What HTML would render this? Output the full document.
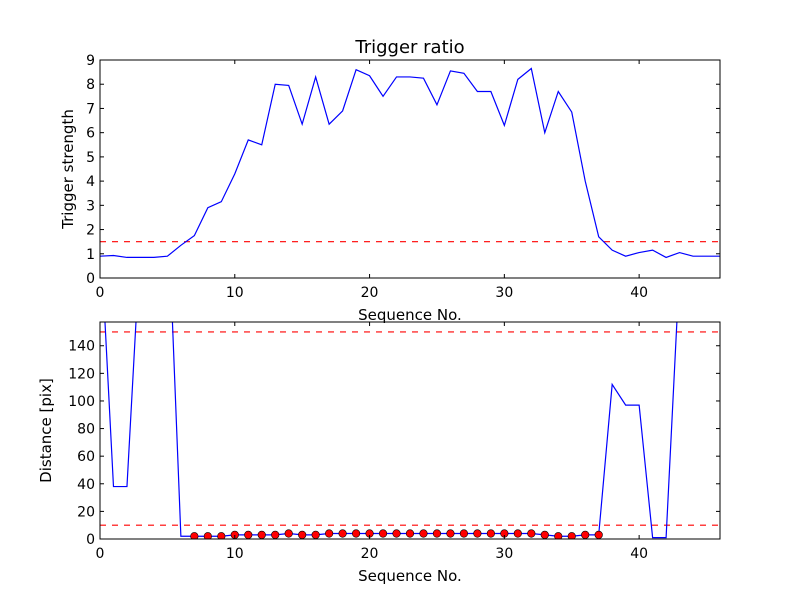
<!DOCTYPE html>
<html><head><meta charset="utf-8"><style>
body{margin:0;background:#fff}
svg{display:block;font-family:"DejaVu Sans","Liberation Sans",sans-serif}
</style></head><body>
<svg id="fig" width="800" height="600" viewBox="0 0 800 600">
<rect width="800" height="600" fill="#fff"/>
</svg>
<script>
const seq = Array.from({length:47},(_, i)=>i);
const strength = [0.9,0.93,0.85,0.85,0.85,0.9,1.35,1.75,2.9,3.15,4.3,5.7,5.5,8.0,7.95,6.35,8.3,6.35,6.9,8.6,8.35,7.5,8.3,8.3,8.25,7.15,8.55,8.45,7.7,7.7,6.3,8.2,8.65,6.0,7.7,6.85,4.0,1.7,1.15,0.9,1.05,1.15,0.85,1.05,0.9,0.9,0.9];
const distance = [227,38,38,216,250,250,2,2,2,2,3,3,3,3,4,3,3,4,4,4,4,4,4,4,4,4,4,4,4,4,4,4,4,3,2,2,3,3,112,97,97,1,1,196,250,250,250];
const dotIdx = [7,8,9,10,11,12,13,14,15,16,17,18,19,20,21,22,23,24,25,26,27,28,29,30,31,32,33,34,35,36,37];
const dotVals = [2,2,2,3,3,3,3,4,3,3,4,4,4,4,4,4,4,4,4,4,4,4,4,4,4,4,3,2,2,3,3];
const topThresh = [1.5];
const botThresh = [150,10];
const topYTicks = [0,1,2,3,4,5,6,7,8,9];
const botYTicks = [0,20,40,60,80,100,120,140];
const xTicks = [0,10,20,30,40];

const NS="http://www.w3.org/2000/svg";
const svg=document.getElementById('fig');
function el(tag,attrs,parent){const e=document.createElementNS(NS,tag);for(const k in attrs)e.setAttribute(k,attrs[k]);(parent||svg).appendChild(e);return e;}

function panel(cfg){
  const {L,R,T,B,ymin,ymax,name}=cfg;
  const g=el('g',{});
  
  
  const sx=v=>L+(v-0)/(46-0)*(R-L);
  const sy=v=>B-(v-ymin)/(ymax-ymin)*(B-T);
  const cid='clip-'+name;
  const cp=el('clipPath',{id:cid},g);el('rect',{x:L,y:T,width:R-L,height:B-T},cp);
  const plot=el('g',{'clip-path':'url(#'+cid+')'},g);
  // thresholds
  cfg.thresh.forEach(t=>{
    const ln=el('line',{x1:L,x2:R,y1:sy(t),y2:sy(t),stroke:'#ff0000','stroke-width':1.2,'stroke-dasharray':'6,6'},plot);
    
    
  });
  const pts=cfg.xs.map((x,i)=>sx(x).toFixed(2)+','+sy(cfg.ys[i]).toFixed(2)).join(' ');
  const pl=el('polyline',{points:pts,fill:'none',stroke:'#0000ff','stroke-width':1.2},plot);
  
  
  if(cfg.dots){
    cfg.dots.x.forEach((x,i)=>{
      const c=el('circle',{cx:sx(x),cy:sy(cfg.dots.y[i]),r:3.8,fill:'#ff0000',stroke:'#000','stroke-width':0.6},plot);
      
      
    });
  }
  // frame
  const fr=el('rect',{x:L,y:T,width:R-L,height:B-T,fill:'none',stroke:'#000','stroke-width':1},g);
  
  
  xTicks.forEach(t=>{
    const x=sx(t);
    el('line',{x1:x,x2:x,y1:B,y2:B-4,stroke:'#000'},g);
    el('line',{x1:x,x2:x,y1:T,y2:T+4,stroke:'#000'},g);
    const tx=el('text',{x:x,y:B+19,'text-anchor':'middle','font-size':14},g);tx.textContent=t;
    
    
  });
  cfg.yticks.forEach(t=>{
    const y=sy(t);
    el('line',{x1:L,x2:L+4,y1:y,y2:y,stroke:'#000'},g);
    el('line',{x1:R,x2:R-4,y1:y,y2:y,stroke:'#000'},g);
    const tx=el('text',{x:L-5,y:y+5,'text-anchor':'end','font-size':14},g);tx.textContent=t;
    
    
  });
  const xl=el('text',{x:(L+R)/2,y:B+42,'text-anchor':'middle','font-size':15},g);xl.textContent='Sequence No.';
  
  
  const yx=cfg.ylabX;
  const yl=el('text',{x:yx,y:(T+B)/2,'text-anchor':'middle','font-size':15,transform:`rotate(-90 ${yx} ${(T+B)/2})`},g);yl.textContent=cfg.ylabel;
  
  
  if(cfg.title){
    const tt=el('text',{x:(L+R)/2,y:T-7,'text-anchor':'middle','font-size':18},g);tt.textContent=cfg.title;
    
    
  }
}
panel({name:'trigger-panel',L:100,R:720,T:60,B:278,ymin:0,ymax:9,xs:seq,ys:strength,thresh:topThresh,yticks:topYTicks,ylabel:'Trigger strength',ylabX:73,title:'Trigger ratio'});
panel({name:'distance-panel',L:100,R:720,T:322,B:539,ymin:0,ymax:157.2,xs:seq,ys:distance,thresh:botThresh,yticks:botYTicks,ylabel:'Distance [pix]',ylabX:51,dots:{x:dotIdx,y:dotVals}});
</script>
</body></html>
